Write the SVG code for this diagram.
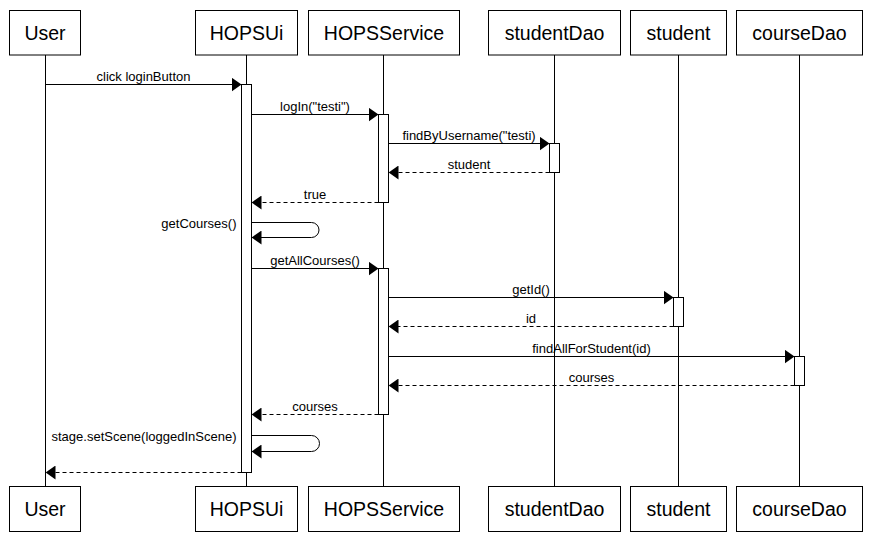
<svg xmlns="http://www.w3.org/2000/svg" width="874" height="533" viewBox="0 0 874 533">
<style>
.box{fill:#fff;stroke:#000;stroke-width:1}
.title{font-family:"Liberation Sans",Arial,sans-serif;font-size:19.5px;fill:#000;text-anchor:middle}
.life{stroke:#000;stroke-width:1;fill:none}
.act{fill:#fff;stroke:#000;stroke-width:1}
.msg{stroke:#000;stroke-width:1;fill:none;marker-end:url(#ah)}
.ret{stroke:#000;stroke-width:1;fill:none;stroke-dasharray:4 3;marker-end:url(#ah)}
.lbl{font-family:"Liberation Sans",Arial,sans-serif;font-size:13px;fill:#000;text-anchor:middle}
.lblr{font-family:"Liberation Sans",Arial,sans-serif;font-size:13px;fill:#000;text-anchor:end}
</style>
<defs>
<marker id="ah" markerUnits="userSpaceOnUse" markerWidth="10" markerHeight="14" refX="10" refY="7" orient="auto">
<path d="M0,0 L10,7 L0,14 Z" fill="#000"/>
</marker>
</defs>
<rect width="874" height="533" fill="#fff"/>
<g id="lifelines">
<line class="life" x1="45.5" y1="55" x2="45.5" y2="486.5"/>
<line class="life" x1="246.5" y1="55" x2="246.5" y2="486.5"/>
<line class="life" x1="383.5" y1="55" x2="383.5" y2="486.5"/>
<line class="life" x1="554.5" y1="55" x2="554.5" y2="486.5"/>
<line class="life" x1="678.5" y1="55" x2="678.5" y2="486.5"/>
<line class="life" x1="799.5" y1="55" x2="799.5" y2="486.5"/>
</g>
<g id="node-user">
<rect class="box" x="9.5" y="10.5" width="71" height="44.5"/>
<text class="title" x="45" y="39.5">User</text>
<rect class="box" x="9.5" y="486.5" width="71" height="45"/>
<text class="title" x="45" y="515.5">User</text>
</g>
<g id="node-hopsui">
<rect class="box" x="195.5" y="10.5" width="102" height="44.5"/>
<text class="title" x="246.5" y="39.5">HOPSUi</text>
<rect class="box" x="195.5" y="486.5" width="102" height="45"/>
<text class="title" x="246.5" y="515.5">HOPSUi</text>
<rect class="act" x="241.5" y="84.5" width="10" height="388"/>
</g>
<g id="node-hopsservice">
<rect class="box" x="308.5" y="10.5" width="151" height="44.5"/>
<text class="title" x="384" y="39.5">HOPSService</text>
<rect class="box" x="308.5" y="486.5" width="151" height="45"/>
<text class="title" x="384" y="515.5">HOPSService</text>
<rect class="act" x="378.5" y="114.5" width="10" height="88"/>
<rect class="act" x="378.5" y="268.5" width="10" height="146"/>
</g>
<g id="node-studentdao">
<rect class="box" x="488.5" y="10.5" width="132" height="44.5"/>
<text class="title" x="554.5" y="39.5">studentDao</text>
<rect class="box" x="488.5" y="486.5" width="132" height="45"/>
<text class="title" x="554.5" y="515.5">studentDao</text>
<rect class="act" x="549.5" y="143.5" width="10" height="29"/>
</g>
<g id="node-student">
<rect class="box" x="630.5" y="10.5" width="96" height="44.5"/>
<text class="title" x="678.5" y="39.5">student</text>
<rect class="box" x="630.5" y="486.5" width="96" height="45"/>
<text class="title" x="678.5" y="515.5">student</text>
<rect class="act" x="673.5" y="297.5" width="10" height="29"/>
</g>
<g id="node-coursedao">
<rect class="box" x="736.5" y="10.5" width="126" height="44.5"/>
<text class="title" x="799.5" y="39.5">courseDao</text>
<rect class="box" x="736.5" y="486.5" width="126" height="45"/>
<text class="title" x="799.5" y="515.5">courseDao</text>
<rect class="act" x="794.5" y="356.5" width="10" height="29"/>
</g>
<g id="connectors">
<line class="msg" x1="45.5" y1="84.5" x2="241.5" y2="84.5"/>
<text class="lbl" x="143.5" y="80.5">click loginButton</text>
<line class="msg" x1="251.5" y1="114.5" x2="378.5" y2="114.5"/>
<text class="lbl" x="315" y="110.5">logIn("testi")</text>
<line class="msg" x1="388.5" y1="143.5" x2="549.5" y2="143.5"/>
<text class="lbl" x="469" y="139.5">findByUsername("testi)</text>
<line class="ret" x1="549.5" y1="172.5" x2="388.5" y2="172.5"/>
<text class="lbl" x="469" y="168.5">student</text>
<line class="ret" x1="378.5" y1="202.5" x2="251.5" y2="202.5"/>
<text class="lbl" x="315" y="198.5">true</text>
<path class="msg" d="M251.5,222.5 H311.5 A7.5,7.5 0 0 1 311.5,237.5 H251.5"/>
<text class="lblr" x="236.5" y="228">getCourses()</text>
<line class="msg" x1="251.5" y1="268.5" x2="378.5" y2="268.5"/>
<text class="lbl" x="315" y="264.5">getAllCourses()</text>
<line class="msg" x1="388.5" y1="297.5" x2="673.5" y2="297.5"/>
<text class="lbl" x="531" y="293.5">getId()</text>
<line class="ret" x1="673.5" y1="326.5" x2="388.5" y2="326.5"/>
<text class="lbl" x="531" y="322.5">id</text>
<line class="msg" x1="388.5" y1="356.5" x2="794.5" y2="356.5"/>
<text class="lbl" x="591.5" y="352.5">findAllForStudent(id)</text>
<line class="ret" x1="794.5" y1="385.5" x2="388.5" y2="385.5"/>
<text class="lbl" x="591.5" y="381.5">courses</text>
<line class="ret" x1="378.5" y1="414.5" x2="251.5" y2="414.5"/>
<text class="lbl" x="315" y="410.5">courses</text>
<path class="msg" d="M251.5,435.5 H311.5 A8,8 0 0 1 311.5,451.5 H251.5"/>
<text class="lblr" x="236.5" y="441">stage.setScene(loggedInScene)</text>
<line class="ret" x1="241.5" y1="472.5" x2="45.5" y2="472.5"/>
</g>
</svg>
